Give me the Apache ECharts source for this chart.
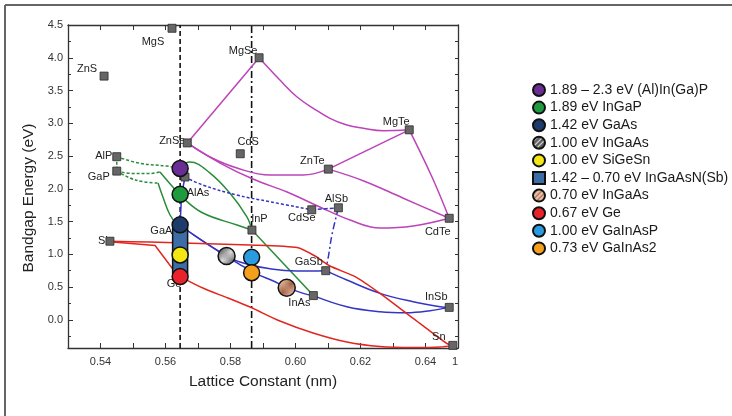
<!DOCTYPE html>
<html><head><meta charset="utf-8">
<script src="https://cdn.jsdelivr.net/npm/echarts@6/dist/echarts.min.js"></script>
<style>html,body{margin:0;padding:0;background:#fff}#c{width:732px;height:416px}</style>
</head><body><div id="c"></div>
<script>
// ---------- DATA ----------
const materials    = ['MgS','ZnS','ZnSe','AlP','GaP','AlAs','MgSe','CdS','MgTe','ZnTe','CdSe','AlSb','CdTe','InP','GaSb','InAs','InSb','Sn','Si','GaAs','Ge'];
const latticeConst = [0.5620,0.5411,0.5667,0.5450,0.5450,0.5660,0.5888,0.5830,0.6350,0.6101,0.6050,0.6132,0.6473,0.5866,0.6093,0.6055,0.6473,0.6484,0.5429,0.5645,0.5645];
const bandgap      = [4.45,3.72,2.70,2.49,2.27,2.18,4.00,2.535,2.90,2.30,1.68,1.71,1.55,1.37,0.75,0.37,0.19,-0.39,1.20,1.45,0.66];

const cellNames   = ['1.89 – 2.3 eV (Al)In(Ga)P','1.89 eV InGaP','1.42 eV GaAs','1.00 eV InGaAs','1.00 eV SiGeSn','1.42 – 0.70 eV InGaAsN(Sb)','0.70 eV InGaAs','0.67 eV Ge','1.00 eV GaInAsP','0.73 eV GaInAs2'];
const cellLattice = [0.5645,0.5645,0.5645,0.5788,0.5645,null,0.5973,0.5645,0.5865,0.5865];
const cellGap     = [2.31,1.915,1.45,0.974,0.99,null,0.49,0.66,0.954,0.719];
const rectSpan    = [0.5645,0.61,1.48]; // lattice, low gap, high gap (InGaAsN(Sb))

const xTickValues  = [0.53,0.54,0.55,0.56,0.57,0.58,0.59,0.60,0.61,0.62,0.63,0.64,0.65];
const xLabelValues = [0.54,0.56,0.58,0.60,0.62,0.64];
const yLabelValues = [0,0.5,1,1.5,2,2.5,3,3.5,4,4.5];
const yMinorValues = [-0.25,0.25,0.75,1.25,1.75,2.25,2.75,3.25,3.75,4.25];

// magenta (II-VI)
const mZnSeMgSe = [[0.5667,2.70],[0.5888,4.00]];
const mMgSeMgTe = [[0.5888,4.00],[0.5952,3.66],[0.6004,3.405],[0.6055,3.228],[0.6106,3.075],[0.6158,2.973],[0.6209,2.923],[0.6270,2.886],[0.6350,2.90]];
const mMgTeCdTe = [[0.6350,2.90],[0.6420,2.18],[0.6473,1.55]];
const mZnSeZnTe = [[0.5667,2.70],[0.5737,2.485],[0.5820,2.317],[0.5922,2.21],[0.6023,2.21],[0.6101,2.30]];
const mZnTeMgTe = [[0.6101,2.30],[0.6350,2.90]];
const mZnTeCdTe = [[0.6101,2.30],[0.6210,2.12],[0.6330,1.86],[0.6473,1.55]];
const mZnSeCdTe = [[0.5667,2.70],[0.5768,2.393],[0.5869,2.149],[0.5974,1.951],[0.6075,1.722],[0.6168,1.523],[0.6260,1.401],[0.6362,1.432],[0.6473,1.55]];
// green (phosphides)
const gAlPDash  = [[0.5450,2.49],[0.5522,2.389],[0.5604,2.347],[0.5645,2.31]];
const gAlPGaP   = [[0.5450,2.49],[0.5450,2.27]];
const gGaPDashA = [[0.5450,2.27],[0.5501,2.233],[0.5552,2.233],[0.5583,2.256]];
const gGaPInP   = [[0.5583,2.256],[0.5620,2.042],[0.5654,1.859],[0.5715,1.63],[0.5820,1.447],[0.5866,1.37]];
const gGaPDashB = [[0.5450,2.27],[0.5491,2.164],[0.5531,2.108],[0.5577,2.088]];
const gGaPGaAs  = [[0.5577,2.088],[0.5592,1.874],[0.5614,1.60],[0.5635,1.462],[0.5645,1.45]];
const gAlPInP   = [[0.5660,2.39],[0.5675,2.408],[0.5737,2.24],[0.5798,1.935],[0.5850,1.574],[0.5866,1.37]];
const gInPInAs  = [[0.5866,1.37],[0.6055,0.37]];
// blue (arsenides / antimonides)
const bAlAsCdSe = [[0.5660,2.18],[0.5715,2.057],[0.5819,1.905],[0.5922,1.802],[0.6050,1.68]];
const bCdSeAlSb = [[0.6050,1.68],[0.6132,1.71]];
const bAlSbGaSb = [[0.6132,1.71],[0.6112,1.294],[0.6102,0.989],[0.6093,0.75]];
const bAlAsGaAs = [[0.5660,2.18],[0.5650,1.90],[0.5645,1.45]];
const bGaAsGaSb = [[0.5645,1.45],[0.5665,1.371],[0.5758,1.065],[0.5829,0.882],[0.5932,0.771],[0.6004,0.745],[0.6093,0.75]];
const bGaAsInAs = [[0.5645,1.45],[0.5665,1.371],[0.5758,1.065],[0.5829,0.844],[0.5875,0.714],[0.5932,0.592],[0.5973,0.496],[0.6024,0.404],[0.6055,0.37]];
const bGaSbInSb = [[0.6093,0.75],[0.6158,0.607],[0.6260,0.404],[0.6362,0.276],[0.6445,0.20],[0.6473,0.19]];
const bInAsInSb = [[0.6055,0.37],[0.6158,0.20],[0.6260,0.124],[0.6342,0.108],[0.6414,0.139],[0.6473,0.19]];
// red (group IV)
const rSiSn = [[0.5429,1.20],[0.5552,1.187],[0.5706,1.165],[0.5860,1.142],[0.6005,1.103],[0.6060,0.974],[0.6106,0.821],[0.6186,0.653],[0.6260,0.404],[0.6362,0.023],[0.6465,-0.359],[0.6484,-0.39]];
const rSiGe = [[0.5429,1.19],[0.5568,1.134],[0.5620,0.791],[0.5645,0.66]];
const rGeSn = [[0.5645,0.66],[0.5715,0.485],[0.5792,0.333],[0.5860,0.195],[0.5952,-0.018],[0.6054,-0.201],[0.6158,-0.339],[0.6260,-0.408],[0.6362,-0.423],[0.6445,-0.415],[0.6484,-0.39]];
// vertical reference lines (GaAs / InP lattice)
const vGaAs = [[0.5645,-0.43],[0.5645,4.5]];
const vInP  = [[0.5865,-0.43],[0.5865,4.5]];

// ---------- STYLE ----------
const FONT = "'Liberation Sans', Arial, sans-serif";
const labelOffset = {MgS:[-19,14],ZnS:[-17,-7],ZnSe:[-15,-2],AlP:[-13,-1],GaP:[-18,6],AlAs:[13,16],MgSe:[-16,-7],CdS:[8,-12],MgTe:[-13,-8],ZnTe:[-16,-8],CdSe:[-10,8.5],AlSb:[-2,-9],CdTe:[-11.5,14],InP:[7.5,-11],GaSb:[-17,-9],InAs:[-14,7.6],InSb:[-13,-10],Sn:[-14,-8.5],Si:[-7,0],GaAs:[-16,6],Ge:[-6,7]};

function hatch(bg, fg){
  const c = document.createElement('canvas'); c.width = 5; c.height = 5;
  const g = c.getContext('2d');
  g.fillStyle = bg; g.fillRect(0,0,5,5);
  g.strokeStyle = fg; g.lineWidth = 1.1;
  g.beginPath(); g.moveTo(0,5); g.lineTo(5,0); g.moveTo(-1,1); g.lineTo(1,-1); g.moveTo(4,6); g.lineTo(6,4); g.stroke();
  return {image: c, repeat: 'repeat'};
}
const cellColor = ['#6a2d93','#1f9a3e','#1d3c6b', hatch('#5e5e5e','#e6e6e6'), '#f3e613', '#3d6da6', hatch('#e9c3ad','#a15f42'), '#e8242a', '#2a9be0', '#f5a01c'];
const cellSize  = [16,16,16,17,16,0,17,16,16,16];

const MAG = '#bb44b8', GRN = '#2a8c3a', BLU = '#3535c4', RED = '#e2261f';
function curve(data, color, type, smooth){
  return {type:'line', data, symbol:'none', smooth: smooth === undefined ? 0.4 : smooth,
    lineStyle:{color, width:1.5, type: type || 'solid'}, z:2, silent:true};
}

const series = [
  Object.assign(curve(vGaAs,'#111',[5,3],false),{lineStyle:{color:'#111',width:1.6,type:[5,3]},z:1}),
  Object.assign(curve(vInP,'#111',[7,3,2,3],false),{lineStyle:{color:'#111',width:1.6,type:[7,3,2,3]},z:1}),
  curve(mZnSeMgSe,MAG,'solid',false), curve(mMgSeMgTe,MAG), curve(mMgTeCdTe,MAG), curve(mZnSeZnTe,MAG),
  curve(mZnTeMgTe,MAG,'solid',false), curve(mZnTeCdTe,MAG), curve(mZnSeCdTe,MAG),
  curve(gAlPDash,GRN,[3,2]), curve(gAlPGaP,GRN,[3,2],false), curve(gGaPDashA,GRN,[3,2]), curve(gGaPInP,GRN),
  curve(gGaPDashB,GRN,[3,2]), curve(gGaPGaAs,GRN), curve(gAlPInP,GRN), curve(gInPInAs,GRN,'solid',false),
  curve(bAlAsCdSe,BLU,[3,2]), curve(bCdSeAlSb,BLU,[4,2],false), curve(bAlSbGaSb,BLU,[7,3,2,3]), curve(bAlAsGaAs,BLU,'solid',0.2),
  curve(bGaAsGaSb,BLU), curve(bGaAsInAs,BLU), curve(bGaSbInSb,BLU), curve(bInAsInSb,BLU),
  curve(rSiSn,RED,'solid',0.2), curve(rSiGe,RED,'solid',false), curve(rGeSn,RED,'solid',0.3),
  { // material labels
    type:'scatter', symbolSize:1, itemStyle:{color:'rgba(0,0,0,0)', opacity:1}, z:3, silent:true,
    data: materials.map((m,i)=>({name:m, value:[latticeConst[i],bandgap[i]], label:{offset:labelOffset[m]}})),
    label:{show:true, position:'inside', formatter:'{b}', fontSize:11, color:'#222', fontFamily:FONT}
  },
  { // material squares
    type:'scatter', symbol:'rect', symbolSize:8, z:4, silent:true,
    data: materials.map((m,i)=>[latticeConst[i],bandgap[i]]),
    itemStyle:{color:'#666666', borderColor:'#2a2a2a', borderWidth:0.8, opacity:1}
  }
];

cellNames.forEach((name,i)=>{
  if (cellLattice[i] === null) {
    series.push({
      type:'custom', name, z:5, silent:true, data:[rectSpan], encode:{x:0, y:[1,2]},
      itemStyle:{color:'#3d6da6', borderColor:'#111', borderWidth:1.5, opacity:1},
      renderItem:(params, api)=>{
        const top = api.coord([api.value(0), api.value(2)]);
        const bot = api.coord([api.value(0), api.value(1)]);
        const w = 15;
        return {type:'rect', shape:{x:top[0]-w/2, y:top[1], width:w, height:bot[1]-top[1], r:6},
          style:{fill:'#3d6da6', stroke:'#111', lineWidth:1.5}};
      }
    });
  } else {
    series.push({
      type:'scatter', name, symbol:'circle', symbolSize:cellSize[i], z:6, silent:true,
      data:[[cellLattice[i], cellGap[i]]],
      itemStyle:{color:cellColor[i], borderColor:'#111', borderWidth:1.5, opacity:1}
    });
  }
});

const axisLineStyle = {color:'#333', width:1.3};
const option = {
  animation:false,
  textStyle:{fontFamily:FONT},
  grid:{left:68, right:274, top:25, bottom:68, containLabel:false},
  legend:{
    orient:'vertical', left:527, top:78, itemWidth:12, itemHeight:12, itemGap:3.6, selectedMode:false,
    textStyle:{fontSize:14, color:'#1a1a1a', fontFamily:FONT},
    data: cellNames.map((n,i)=>({name:n, icon: cellLattice[i]===null ? 'rect' : 'circle'}))
  },
  xAxis:[
    {type:'value', position:'bottom', min:0.53, max:0.65,
     axisLine:{show:true, onZero:false, lineStyle:axisLineStyle},
     axisTick:{show:true, inside:true, length:5, customValues:xTickValues, lineStyle:{color:'#333'}},
     axisLabel:{customValues:xLabelValues, formatter:v=>v.toFixed(2), fontSize:11, color:'#333', margin:8},
     splitLine:{show:false},
     name:'Lattice Constant (nm)', nameLocation:'middle', nameGap:26,
     nameTextStyle:{fontSize:15.5, color:'#222'}},
    {type:'value', position:'top', min:0.53, max:0.65,
     axisLine:{show:true, onZero:false, lineStyle:axisLineStyle},
     axisTick:{show:true, inside:true, length:5, customValues:xTickValues, lineStyle:{color:'#333'}},
     axisLabel:{show:false}, splitLine:{show:false}}
  ],
  yAxis:[
    {type:'value', position:'left', min:-0.43, max:4.5,
     axisLine:{show:true, onZero:false, lineStyle:axisLineStyle},
     axisTick:{show:true, inside:true, length:5, customValues:yLabelValues, lineStyle:{color:'#333'}},
     axisLabel:{customValues:yLabelValues, formatter:v=>v.toFixed(1), fontSize:11, color:'#333', margin:5},
     splitLine:{show:false},
     name:'Bandgap Energy (eV)', nameLocation:'middle', nameGap:27,
     nameTextStyle:{fontSize:15.5, color:'#222', padding:[0,23,0,0]}},
    {type:'value', position:'right', min:-0.43, max:4.5,
     axisLine:{show:true, onZero:false, lineStyle:axisLineStyle},
     axisTick:{show:true, inside:true, length:3, customValues:yLabelValues.concat(yMinorValues), lineStyle:{color:'#333'}},
     axisLabel:{show:false}, splitLine:{show:false}},
    {type:'value', position:'left', min:-0.43, max:4.5,
     axisLine:{show:false},
     axisTick:{show:true, inside:true, length:3, customValues:yMinorValues, lineStyle:{color:'#333'}},
     axisLabel:{show:false}, splitLine:{show:false}}
  ],
  graphic:[
    {type:'line', shape:{x1:5,y1:5,x2:732,y2:5}, style:{stroke:'#666', lineWidth:2}, silent:true},
    {type:'line', shape:{x1:5,y1:5,x2:5,y2:416}, style:{stroke:'#666', lineWidth:2}, silent:true},
    {type:'text', left:452, top:356, style:{text:'1', fontSize:11, fill:'#333', fontFamily:FONT}, silent:true}
  ],
  series
};
const chart = echarts.init(document.getElementById('c'), null, {renderer:'canvas'});
chart.setOption(option);
</script></body></html>
